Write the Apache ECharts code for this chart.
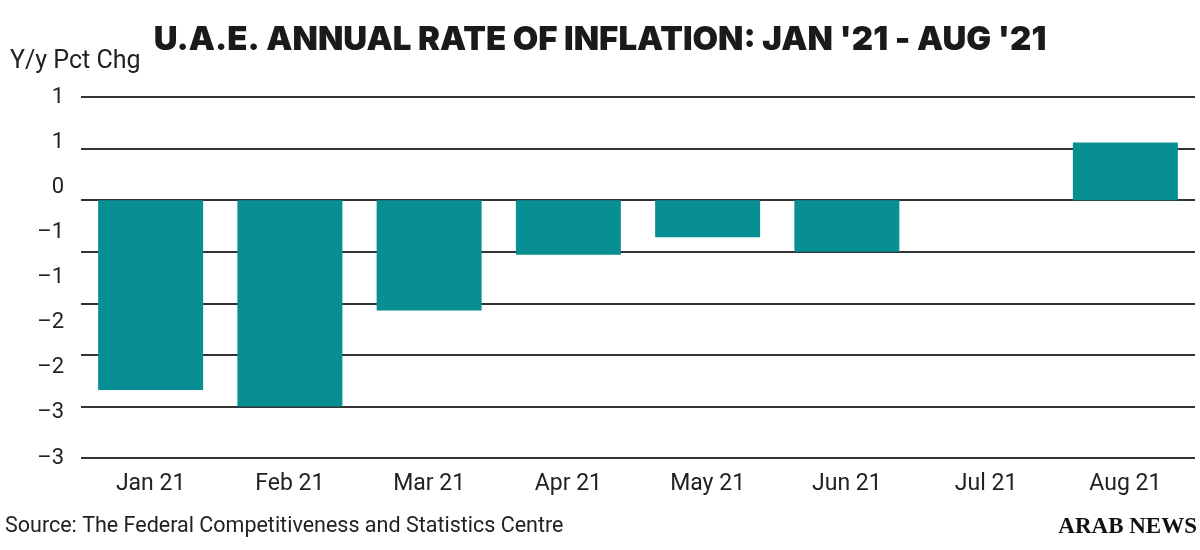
<!DOCTYPE html>
<html>
<head>
<meta charset="utf-8">
<script src="https://cdn.jsdelivr.net/npm/echarts@6/dist/echarts.min.js"></script>
<style>
html,body{margin:0;padding:0;background:#fff;}
#chart{width:1200px;height:550px;}
</style>
</head>
<body>
<div id="chart"></div>
<script>
var categories = ["Jan 21", "Feb 21", "Mar 21", "Apr 21", "May 21", "Jun 21", "Jul 21", "Aug 21"];
var inflation = [-1.84, -2.0, -1.07, -0.53, -0.36, -0.50, 0, 0.56];
var yTickLabels = ["1", "1", "0", "–1", "–1", "–2", "–2", "–3", "–3"];

var chart = echarts.init(document.getElementById('chart'));
var option = {
  backgroundColor: '#ffffff',
  animation: false,
  title: {
    text: "U.A.E. ANNUAL RATE OF INFLATION: JAN '21 - AUG '21",
    left: 'center',
    top: 19,
    textStyle: {
      fontFamily: 'Inter',
      fontWeight: 900,
      fontSize: 33,
      color: '#1a1a1a'
    }
  },
  graphic: [
    {
      type: 'text', left: 10, top: 49,
      style: { text: 'Y/y Pct Chg', font: '25px Roboto', fill: '#222' }
    },
    {
      type: 'text', left: 5, top: 516,
      style: { text: 'Source: The Federal Competitiveness and Statistics Centre', font: '21.5px Roboto', fill: '#222' }
    },
    {
      type: 'text', right: 3, top: 516,
      style: { text: 'ARAB NEWS', font: 'bold 23px "Liberation Serif"', fill: '#111' }
    }
  ],
  grid: { left: 81, right: 5, top: 97, bottom: 92 },
  xAxis: {
    type: 'category',
    data: categories,
    position: 'bottom',
    axisLine: { show: false, onZero: false },
    axisTick: { show: false },
    axisLabel: { fontFamily: 'Roboto', fontSize: 23, color: '#222', margin: 15 }
  },
  yAxis: [
    {
      type: 'value',
      min: -2.5, max: 1, interval: 0.5,
      position: 'right',
      axisLine: { show: false },
      axisTick: { show: false },
      axisLabel: { show: false },
      splitLine: { show: true, lineStyle: { color: '#333', width: 2 } }
    },
    {
      type: 'value',
      min: -3, max: 1, interval: 0.5,
      position: 'left',
      axisLine: { show: false },
      axisTick: { show: false },
      splitLine: { show: false },
      axisLabel: {
        fontFamily: 'Roboto', fontSize: 22, color: '#222', margin: 17,
        formatter: function (v) {
          var idx = Math.round((1 - v) / 0.5);
          return yTickLabels[idx] !== undefined ? yTickLabels[idx] : '';
        }
      }
    }
  ],
  series: [
    {
      type: 'bar',
      yAxisIndex: 0,
      data: inflation,
      barWidth: 105,
      itemStyle: { color: '#088f94' }
    }
  ]
};
chart.setOption(option);
</script>
</body>
</html>
